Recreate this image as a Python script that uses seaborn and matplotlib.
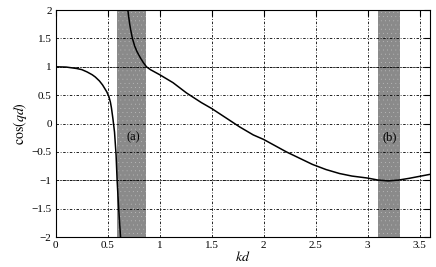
import numpy as np
import pandas as pd
import seaborn as sns
import matplotlib.pyplot as plt

# branch 1: from kd=0 down to the asymptote near kd~0.62
kd_low = [0.0, 0.1, 0.2, 0.25, 0.3, 0.35, 0.38, 0.42, 0.45, 0.47, 0.49, 0.51,
          0.525, 0.535, 0.55, 0.565, 0.58, 0.59, 0.605, 0.625]
cos_low = [1.0, 0.995, 0.97, 0.95, 0.91, 0.86, 0.82, 0.75, 0.68, 0.62, 0.56,
           0.48, 0.38, 0.28, 0.08, -0.15, -0.55, -1.0, -1.5, -2.05]

# branch 2: coming down from +inf near kd~0.69
kd_high = [0.69, 0.70, 0.712, 0.725, 0.737, 0.76, 0.782, 0.81, 0.84, 0.872,
           0.91, 0.95, 1.0, 1.128, 1.257, 1.4, 1.5, 1.65, 1.77, 1.9, 2.0,
           2.22, 2.47, 2.6, 2.73, 2.85, 3.0, 3.1, 3.2, 3.3, 3.4, 3.5, 3.6]
cos_high = [2.05, 1.9, 1.74, 1.61, 1.5, 1.36, 1.265, 1.17, 1.08, 1.0,
            0.95, 0.91, 0.86, 0.72, 0.54, 0.37, 0.265, 0.085, -0.06, -0.2,
            -0.28, -0.5, -0.72, -0.81, -0.88, -0.925, -0.96, -0.995, -1.01,
            -0.995, -0.965, -0.93, -0.895]

# forbidden bands (shaded)
band_a = (0.59, 0.872)
band_b = (3.1, 3.31)
band_labels = ["(a)", "(b)"]

df = pd.DataFrame({
    "kd": kd_low + kd_high,
    "cosqd": cos_low + cos_high,
    "branch": ["low"] * len(kd_low) + ["high"] * len(kd_high),
})

sns.set_style("white")
plt.rcParams["font.family"] = ["Liberation Serif", "DejaVu Serif"]
plt.rcParams["mathtext.fontset"] = "stix"
plt.rcParams["hatch.color"] = "#d8d8d8"
plt.rcParams["hatch.linewidth"] = 0.0

fig = plt.figure(figsize=(4.36, 2.67), dpi=100)
ax = fig.add_axes([0.128, 0.112, 0.858, 0.8505])

for (x0, x1) in [band_a, band_b]:
    ax.axvspan(x0, x1, facecolor="#8a8a8a", edgecolor="#d8d8d8",
               hatch="....", linewidth=0, zorder=1)

sns.lineplot(data=df, x="kd", y="cosqd", units="branch", estimator=None,
             sort=False, color="black", linewidth=1.1, ax=ax, zorder=3)

ax.set_xlim(0, 3.6)
ax.set_ylim(-2, 2)
ax.set_xticks(np.arange(0, 3.6, 0.5))
ax.set_yticks(np.arange(-2, 2.01, 0.5))
ax.set_xticklabels(["0", "0.5", "1", "1.5", "2", "2.5", "3", "3.5"])
ax.set_yticklabels(["\u22122", "\u22121.5", "\u22121", "\u22120.5", "0",
                    "0.5", "1", "1.5", "2"])
ax.grid(True, color="black", linestyle=(0, (3, 2, 1, 2)), linewidth=0.6,
        zorder=2)
ax.set_axisbelow(False)
ax.axhline(1, color="black", linestyle=(0, (1, 1)), linewidth=0.6, zorder=2)
ax.axhline(-1, color="black", linestyle=(0, (1, 1)), linewidth=0.6, zorder=2)

ax.tick_params(direction="in", top=True, right=True, length=4, width=0.8,
               labelsize=8, pad=3, colors="black")
for s in ax.spines.values():
    s.set_color("black")
    s.set_linewidth(0.8)

ax.text(0.75, -0.25, band_labels[0], ha="center", va="center", fontsize=9,
        color="black", zorder=4)
ax.text(3.21, -0.25, band_labels[1], ha="center", va="center", fontsize=9,
        color="black", zorder=4)

ax.set_xlabel(r"$kd$", fontsize=10, labelpad=0, color="black")
ax.set_ylabel(r"$\cos(qd)$", fontsize=10, labelpad=2, color="black")

fig.savefig("out.png", dpi=100)
